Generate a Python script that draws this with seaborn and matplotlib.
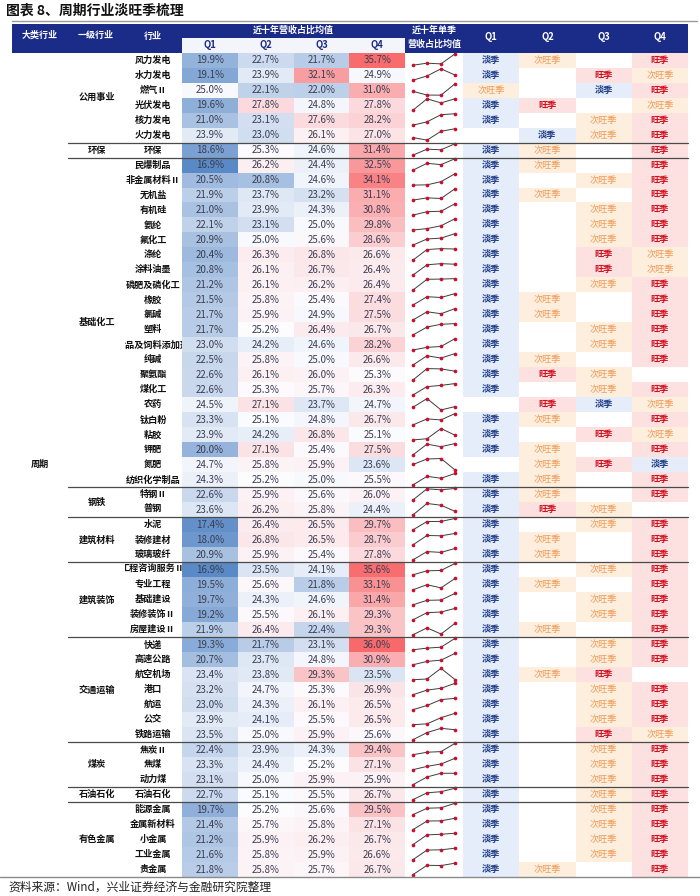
import numpy as np
import pandas as pd
import matplotlib
matplotlib.use("Agg")
import matplotlib.pyplot as plt
from matplotlib.colors import LinearSegmentedColormap, ListedColormap, TwoSlopeNorm
from matplotlib.patches import Rectangle
import seaborn as sns

sns.set_style("white")
plt.rcParams["font.family"] = ["Noto Sans CJK SC", "DejaVu Sans"]
plt.rcParams["axes.unicode_minus"] = False

# -----------------------
# Data
# -----------------------
sectors = ["公用事业", "环保", "基础化工", "钢铁", "建筑材料", "建筑装饰",
           "交通运输", "煤炭", "石油石化", "有色金属"]
sector_sizes = [6, 1, 22, 2, 3, 5, 7, 3, 1, 5]

industries = [
    "风力发电", "水力发电", "燃气Ⅱ", "光伏发电", "核力发电", "火力发电",
    "环保",
    "民爆制品", "非金属材料Ⅱ", "无机盐", "有机硅", "氨纶", "氟化工", "涤纶",
    "涂料油墨", "磷肥及磷化工", "橡胶", "氯碱", "塑料", "食品及饲料添加剂",
    "纯碱", "聚氨酯", "煤化工", "农药", "钛白粉", "粘胶", "钾肥", "氮肥",
    "纺织化学制品",
    "特钢Ⅱ", "普钢",
    "水泥", "装修建材", "玻璃玻纤",
    "工程咨询服务Ⅱ", "专业工程", "基础建设", "装修装饰Ⅱ", "房屋建设Ⅱ",
    "快递", "高速公路", "航空机场", "港口", "航运", "公交", "铁路运输",
    "焦炭Ⅱ", "焦煤", "动力煤",
    "石油石化",
    "能源金属", "金属新材料", "小金属", "工业金属", "贵金属",
]

quarters = ["Q1", "Q2", "Q3", "Q4"]

q1 = [19.9, 19.1, 25.0, 19.6, 21.0, 23.9,
      18.6,
      16.9, 20.5, 21.9, 21.0, 22.1, 20.9, 20.4, 20.8, 21.2, 21.5, 21.7, 21.7,
      23.0, 22.5, 22.6, 22.6, 24.5, 23.3, 23.9, 20.0, 24.7, 24.3,
      22.6, 23.6,
      17.4, 18.0, 20.9,
      16.9, 19.5, 19.7, 19.2, 21.9,
      19.3, 20.7, 23.4, 23.2, 23.0, 23.9, 23.5,
      22.4, 23.3, 23.1,
      22.7,
      19.7, 21.4, 21.2, 21.6, 21.8]
q2 = [22.7, 23.9, 22.1, 27.8, 23.1, 23.0,
      25.3,
      26.2, 20.8, 23.7, 23.9, 23.1, 25.0, 26.3, 26.1, 26.1, 25.8, 25.9, 25.2,
      24.2, 25.8, 26.1, 25.3, 27.1, 25.1, 24.2, 27.1, 25.8, 25.2,
      25.9, 26.2,
      26.4, 26.8, 25.9,
      23.5, 25.6, 24.3, 25.5, 26.4,
      21.7, 23.7, 23.8, 24.7, 24.3, 24.1, 25.0,
      23.9, 24.4, 25.0,
      25.1,
      25.2, 25.7, 25.9, 25.8, 25.8]
q3 = [21.7, 32.1, 22.0, 24.8, 27.6, 26.1,
      24.6,
      24.4, 24.6, 23.2, 24.3, 25.0, 25.6, 26.8, 26.7, 26.2, 25.4, 24.9, 26.4,
      24.6, 25.0, 26.0, 25.7, 23.7, 24.8, 26.8, 25.4, 25.9, 25.0,
      25.6, 25.8,
      26.5, 26.5, 25.4,
      24.1, 21.8, 24.6, 26.1, 22.4,
      23.1, 24.8, 29.3, 25.3, 26.1, 25.5, 25.9,
      24.3, 25.2, 25.9,
      25.5,
      25.6, 25.8, 26.2, 25.9, 25.7]
q4 = [35.7, 24.9, 31.0, 27.8, 28.2, 27.0,
      31.4,
      32.5, 34.1, 31.1, 30.8, 29.8, 28.6, 26.6, 26.4, 26.4, 27.4, 27.5, 26.7,
      28.2, 26.6, 25.3, 26.3, 24.7, 26.7, 25.1, 27.5, 23.6, 25.5,
      26.0, 24.4,
      29.7, 28.7, 27.8,
      35.6, 33.1, 31.4, 29.3, 29.3,
      36.0, 30.9, 23.5, 26.9, 26.5, 26.5, 25.6,
      29.4, 27.1, 25.9,
      26.7,
      29.5, 27.1, 26.7, 26.6, 26.7]

# season per quarter: L = 淡季, S = 次旺季, H = 旺季, - = none
seasons = [
    "LS-H", "L-HS", "S-LH", "LH-S", "L-SH", "-LSH",
    "LS-H",
    "LS-H", "L-SH", "LS-H", "L-SH", "L-SH", "L-SH", "L-HS", "L-HS", "L-SH",
    "LS-H", "LS-H", "L-SH", "L-SH", "LS-H", "LHS-", "L-SH", "-HLS", "LS-H",
    "L-HS", "LS-H", "-SHL", "LS-H",
    "LS-H", "LHS-",
    "L-SH", "LS-H", "LS-H",
    "L-SH", "LS-H", "L-SH", "L-SH", "LS-H",
    "L-SH", "L-SH", "LSH-", "L-SH", "L-SH", "L-SH", "L-HS",
    "L-SH", "L-SH", "L-SH",
    "L-SH",
    "L-SH", "L-SH", "L-SH", "L-SH", "LS-H",
]

season_text = {"L": "淡季", "S": "次旺季", "H": "旺季", "-": ""}
season_code = {"-": 0, "L": 1, "S": 2, "H": 3}

# -----------------------
# Layout (pixels)
# -----------------------
W, H = 700, 896
TOP, BOT = 52.6, 877.0
n = len(industries)
row_h = (BOT - TOP) / n
NAVY = "#1a2b88"


def frac(x0, y0, x1, y1):
    return [x0 / W, 1 - y1 / H, (x1 - x0) / W, (y1 - y0) / H]


fig = plt.figure(figsize=(W / 100, H / 100), dpi=100)
fig.patch.set_facecolor("white")

# -----------------------
# Value heatmap
# -----------------------
vals = np.column_stack([q1, q2, q3, q4])
df_vals = pd.DataFrame(vals, index=industries, columns=quarters)
annot_vals = df_vals.apply(lambda col: col.map(lambda v: f"{v:.1f}%"))

excel_cmap = LinearSegmentedColormap.from_list(
    "excel", ["#5A8AC6", "#FCFCFF", "#F8696B"])
vnorm = TwoSlopeNorm(vmin=vals.min(), vcenter=np.median(vals), vmax=vals.max())

ax_v = fig.add_axes(frac(182, TOP, 405, BOT))
sns.heatmap(df_vals, ax=ax_v, cmap=excel_cmap, norm=vnorm, cbar=False,
            annot=annot_vals.values, fmt="",
            annot_kws={"fontsize": 7, "color": "#3a3d52"},
            xticklabels=False, yticklabels=False)
ax_v.set_xlabel("")
ax_v.set_ylabel("")

# -----------------------
# Season label grid
# -----------------------
codes = np.array([[season_code[c] for c in s] for s in seasons])
labels = np.array([[season_text[c] for c in s] for s in seasons])
df_codes = pd.DataFrame(codes, index=industries, columns=quarters)
season_cmap = ListedColormap(["#ffffff", "#e4edf9", "#fdeede", "#fde1e1"])

ax_l = fig.add_axes(frac(463, TOP, 688, BOT))
sns.heatmap(df_codes, ax=ax_l, cmap=season_cmap, vmin=-0.5, vmax=3.5,
            cbar=False, annot=labels, fmt="",
            annot_kws={"fontsize": 6.6},
            xticklabels=False, yticklabels=False)
ax_l.set_xlabel("")
ax_l.set_ylabel("")
for t in ax_l.texts:
    s = t.get_text()
    if s == "淡季":
        t.set_color("#1f3c88")
        t.set_fontweight("bold")
    elif s == "旺季":
        t.set_color("#d0101e")
        t.set_fontweight("bold")
    elif s == "次旺季":
        t.set_color("#f09a55")

# -----------------------
# Sparklines
# -----------------------
lo = vals.min(axis=1, keepdims=True)
hi = vals.max(axis=1, keepdims=True)
rel = (vals - lo) / (hi - lo)
spark = pd.DataFrame({
    "row": np.repeat(np.arange(n), 4),
    "q": np.tile(np.arange(4), n),
    "y": (np.arange(n)[:, None] + 0.08 + (1 - rel) * 0.76).ravel(),
})
ax_s = fig.add_axes(frac(405, TOP, 463, BOT))
sns.lineplot(data=spark, x="q", y="y", units="row", estimator=None,
             color="#3d3d3d", linewidth=0.7, ax=ax_s, legend=False)
sns.scatterplot(data=spark, x="q", y="y", color="#c8102e", s=7,
                linewidth=0, ax=ax_s, legend=False, zorder=3)
ax_s.set_xlim(-8 / 14, 3 + 8 / 14)
ax_s.set_ylim(n, 0)
ax_s.axis("off")

# -----------------------
# Overlay: header, row labels, lines, title
# -----------------------
ov = fig.add_axes([0, 0, 1, 1])
ov.set_xlim(0, W)
ov.set_ylim(H, 0)
ov.axis("off")
ov.patch.set_alpha(0)

ov.text(6, 11, "图表 8、周期行业淡旺季梳理", fontsize=10, fontweight="bold",
        ha="left", va="center", color="#111111")
ov.plot([12, 697], [21, 21], color="#9a9a9a", lw=1.0)
ov.add_patch(Rectangle((12, 24), 688 - 12, TOP - 24, color=NAVY, lw=0))
ov.add_patch(Rectangle((182, 38.3), 405 - 182, TOP - 38.3,
                       color="#f3f5fa", lw=0))

hdr = dict(color="white", fontweight="bold", fontsize=6.5,
           ha="center", va="center")
ov.text(40, 35.5, "大类行业", **hdr)
ov.text(96, 35.5, "一级行业", **hdr)
ov.text(153, 36.5, "行业", **hdr)
ov.text(293.5, 30, "近十年营收占比均值", **hdr)
ov.text(434, 30.5, "近十年单季", **hdr)
ov.text(434, 44.5, "营收占比均值", **hdr)
val_w = (405 - 182) / 4
lab_w = (688 - 463) / 4
for i, q in enumerate(quarters):
    ov.text(182 + val_w * (i + 0.5), 45.5, q, color=NAVY, fontweight="bold",
            fontsize=6.8, ha="center", va="center")
    ov.text(463 + lab_w * (i + 0.5), 37.5, q, color="white",
            fontweight="bold", fontsize=6.8, ha="center", va="center")

# industry labels
for i, name in enumerate(industries):
    yc = TOP + (i + 0.5) * row_h
    t = ov.text(153, yc, name, fontsize=6.6, fontweight="bold",
                ha="center", va="center", color="#111111")
    clip = Rectangle((125, yc - row_h / 2), 57, row_h, transform=ov.transData)
    t.set_clip_path(clip)
    t.set_clip_on(True)

# sector labels and separators
start = 0
for k, (sec, size) in enumerate(zip(sectors, sector_sizes)):
    yc = TOP + (start + size / 2) * row_h
    ov.text(97, yc, sec, fontsize=6.6, fontweight="bold",
            ha="center", va="center", color="#111111")
    start += size
    if k < len(sectors) - 1:
        yb = TOP + start * row_h
        ov.plot([68, 688], [yb, yb], color="#4a4a4a", lw=0.9)

ov.text(40, (TOP + BOT) / 2, "周期", fontsize=6.6, fontweight="bold",
        ha="center", va="center", color="#111111")
ov.plot([0, W], [BOT + 0.5, BOT + 0.5], color="#8a8a8a", lw=1.0)

ov.text(8, 887, "资料来源：Wind，兴业证券经济与金融研究院整理", fontsize=8.5,
        ha="left", va="center", color="#222222")

fig.savefig("out.png", dpi=100)
